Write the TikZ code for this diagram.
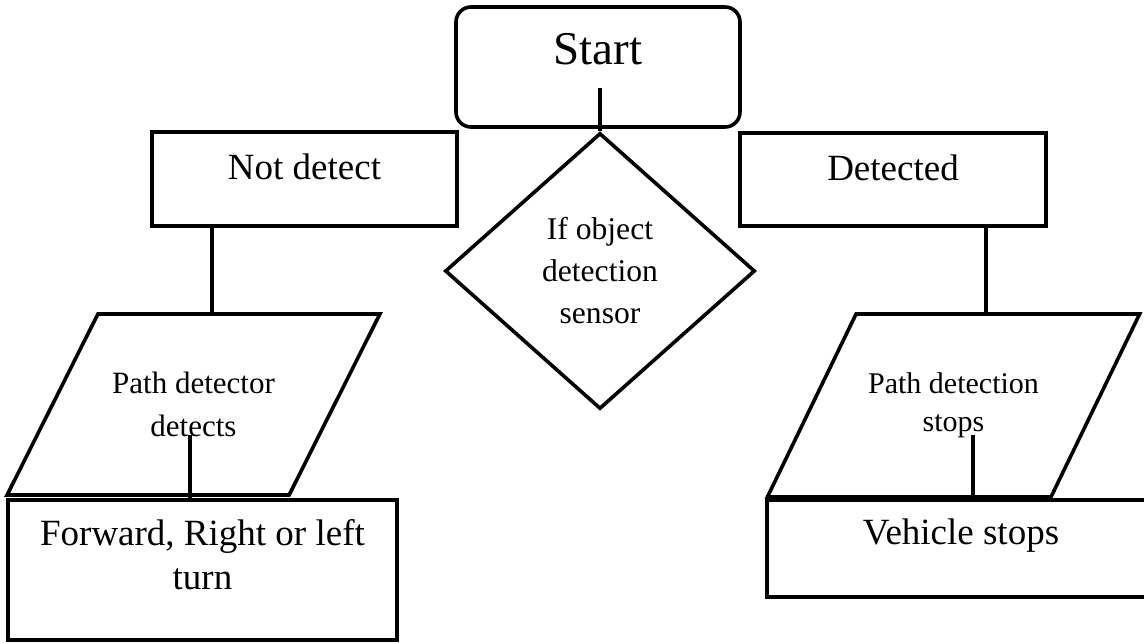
\documentclass[tikz,border=0pt]{standalone}
\usepackage{fontspec}
\setmainfont{Liberation Serif}
\usepackage{tikz}
\usetikzlibrary{shapes.geometric}
\usetikzlibrary{positioning, calc}

\begin{document}
\begin{tikzpicture}[x=0.5pt, y=-0.5pt,
			every path/.style={line width=1.8pt},
			box/.style={draw, rectangle, line width=1.8pt, inner sep=0pt},
			startbox/.style={box, rounded corners=7.5pt},
			decide/.style={draw, diamond, line width=1.8pt, inner sep=0pt, align=center,
				font=\fontsize{15.8}{21}\selectfont},
			io/.style={draw, trapezium, trapezium left angle=40, trapezium right angle=140,
				trapezium stretches=true, line width=1.8pt, inner sep=0pt, align=center},
			big/.style={font=\fontsize{18.5}{22}\selectfont, align=center},
			]
			\useasboundingbox (0,0) rectangle (1144,642);
			\node[startbox, minimum width=142pt, minimum height=60pt,
				label={[font=\fontsize{23.5}{28}\selectfont, yshift=9pt]center:Start}] (start) at (598,67) {};
			\node[decide, minimum width=155pt, minimum height=138pt] (dia) at (600,271) {If object\\detection\\sensor};
			\node[box, minimum width=152.5pt, minimum height=47pt,
				label={[big, yshift=6pt]center:Not detect}] (ndet) at (304.5,179) {};
			\node[box, minimum width=153pt, minimum height=46.5pt,
				label={[big, yshift=6pt]center:Detected}] (det) at (893,179.5) {};
			\node[io, minimum width=186.5pt, minimum height=90.5pt,
				font=\fontsize{15.5}{21.5}\selectfont] (pdl) at (193.5,404.5) {Path detector\\detects};
			\node[io, minimum width=186.5pt, minimum height=91.5pt,
				font=\fontsize{15}{19}\selectfont] (pdr) at (953.5,405.5) {Path detection\\stops};
			\node[box, minimum width=194.5pt, minimum height=70pt,
				label={[big, yshift=7.5pt]center:{Forward, Right or left\\turn}}] (fwd) at (202.5,570) {};
			\node[box, minimum width=194pt, minimum height=48.5pt,
				label={[big, yshift=6.5pt]center:Vehicle stops}] (veh) at (961,548.5) {};
			
			\draw ([yshift=20.5pt]start.south -| dia.north) -- (dia.north);
			\draw ($(ndet.south west)!.2!(ndet.south east)$) coordinate (aux) -- (aux |- pdl.north);
			\draw ($(det.south west)!.8!(det.south east)$) coordinate (aux) -- (aux |- pdr.north);
			\draw ([xshift=-1.75pt, yshift=31pt]pdl.south) coordinate (aux) -- (aux |- fwd.north);
			\draw ([xshift=9.75pt, yshift=32pt]pdr.south) coordinate (aux) -- (aux |- veh.north);
			\end{tikzpicture}
\end{document}
